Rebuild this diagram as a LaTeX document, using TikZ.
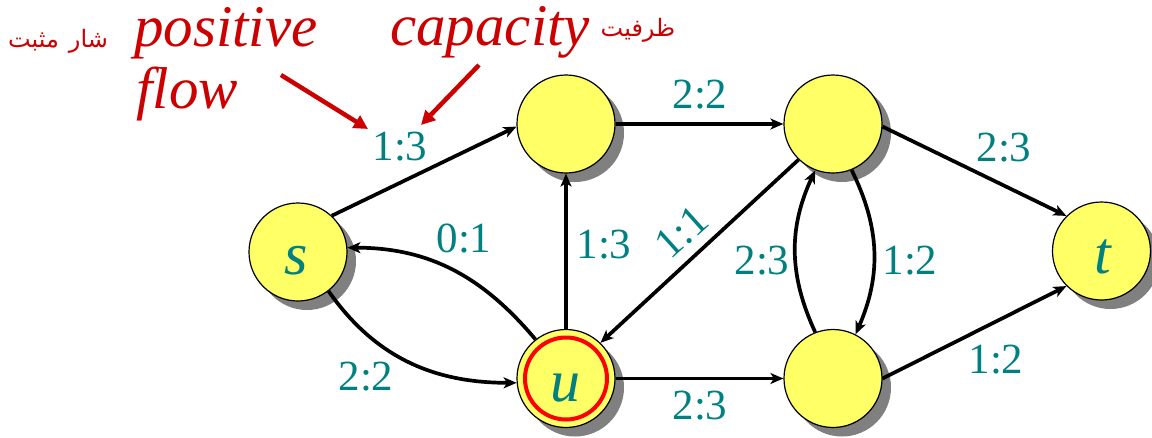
\documentclass[tikz,border=0pt]{standalone}
\usepackage{fontspec}
\setmainfont{Liberation Serif}
\newfontfamily\annfont{Liberation Serif Italic}
\newfontfamily\arabicfont[Script=Arabic]{DejaVu Sans}
\TeXXeTstate=1
\usetikzlibrary{arrows.meta,shadows}
\definecolor{nodeyellow}{RGB}{255,255,102}
\definecolor{lblteal}{RGB}{0,128,128}
\definecolor{annred}{RGB}{204,0,0}
\definecolor{ringred}{RGB}{255,0,0}
\definecolor{shadowgray}{RGB}{128,128,128}
\begin{document}
\begin{tikzpicture}[x=1pt,y=1pt,
  vtx/.style={circle,draw=black,line width=1.2pt,fill=nodeyellow,minimum size=98pt,inner sep=0pt,
    drop shadow={shadow xshift=9pt,shadow yshift=-9pt,fill=shadowgray,opacity=1}},
  edge/.style={line width=3.7pt,-{Stealth[length=13pt,width=11pt,inset=3.5pt]}},
  elbl/.style={text=lblteal,font=\fontsize{43}{43}\selectfont,inner sep=0pt},
  vlbl/.style={text=lblteal,font=\fontsize{60}{60}\selectfont\annfont,inner sep=0pt},
  ann/.style={text=annred,font=\fontsize{59}{59}\selectfont\annfont,inner sep=0pt,anchor=base west},
  arab/.style={text=annred,font=\fontsize{24}{24}\selectfont\arabicfont,inner sep=0pt},
  annarrow/.style={draw=annred,line width=4.5pt,-{Triangle[length=14pt,width=14pt]}}]
\useasboundingbox (0,0) rectangle (1152,-437);

% vertices
\node[vtx] (s) at (298,-252) {};
\node[vtx] (a) at (566,-124) {};
\node[vtx] (b) at (833,-124) {};
\node[vtx] (u) at (566,-378.5) {};
\node[vtx] (c) at (833,-378.5) {};
\node[vtx] (t) at (1101.5,-251) {};
\draw[ringred,line width=4pt] (u.center) circle (41);

\node[vlbl] (sl) at (296,-261) {s};
\node[vlbl] (ul) at (565,-388) {u};
\node[vlbl] (tl) at (1103,-257) {t};

% edges
\draw[edge] (s.47) -- (a.183);
\draw[edge] (a.east) -- (b.west);
\draw[edge] (b.-3) -- (t.135);
\draw[edge] (c.east) -- (t.225);
\draw[edge] (u.east) -- (c.west);
\draw[edge] (u.north) -- (a.south);
\draw[edge] (b.226) -- (u.46);
\draw[edge] (c.111) to[bend left=25] (b.249);
\draw[edge] (b.292) to[bend left=25] (c.63);
\draw[edge] (u.128) to[out=130,in=0] (s.5);
\draw[edge] (s.308) to[out=-55,in=180] (u.185);

% edge labels
\node[elbl] (l1) at (400,-147) {1:3};
\node[elbl] (l2) at (700,-95) {2:2};
\node[elbl] (l3) at (1004,-148) {2:3};
\node[elbl] (l4) at (910,-261) {1:2};
\node[elbl] (l5) at (762,-261) {2:3};
\node[elbl] (l6) at (996,-360) {1:2};
\node[elbl] (l7) at (700,-406) {2:3};
\node[elbl,rotate=42] (l8) at (682,-232) {1:1};
\node[elbl] (l9) at (604,-245) {1:3};
\node[elbl] (l10) at (464,-239) {0:1};
\node[elbl] (l11) at (366,-377) {2:2};

% annotations
\node[ann] (pos) at (134,-46) {positive};
\node[ann] (flw) at (136,-108) {flow};
\node[ann] (cap) at (390,-45) {capacity};
\node[arab] (ar1) at (58,-41) {\beginR شار\hspace{10pt}مثبت\endR};
\node[arab] (ar2) at (638,-30) {\beginR ظرفیت\endR};

\coordinate (pfs) at (281,-75);
\coordinate (pft) at (368,-129);
\coordinate (cps) at (479,-65);
\coordinate (cpt) at (421,-125);
\draw[annarrow] (pfs) -- (pft);
\draw[annarrow] (cps) -- (cpt);
\end{tikzpicture}
\end{document}
